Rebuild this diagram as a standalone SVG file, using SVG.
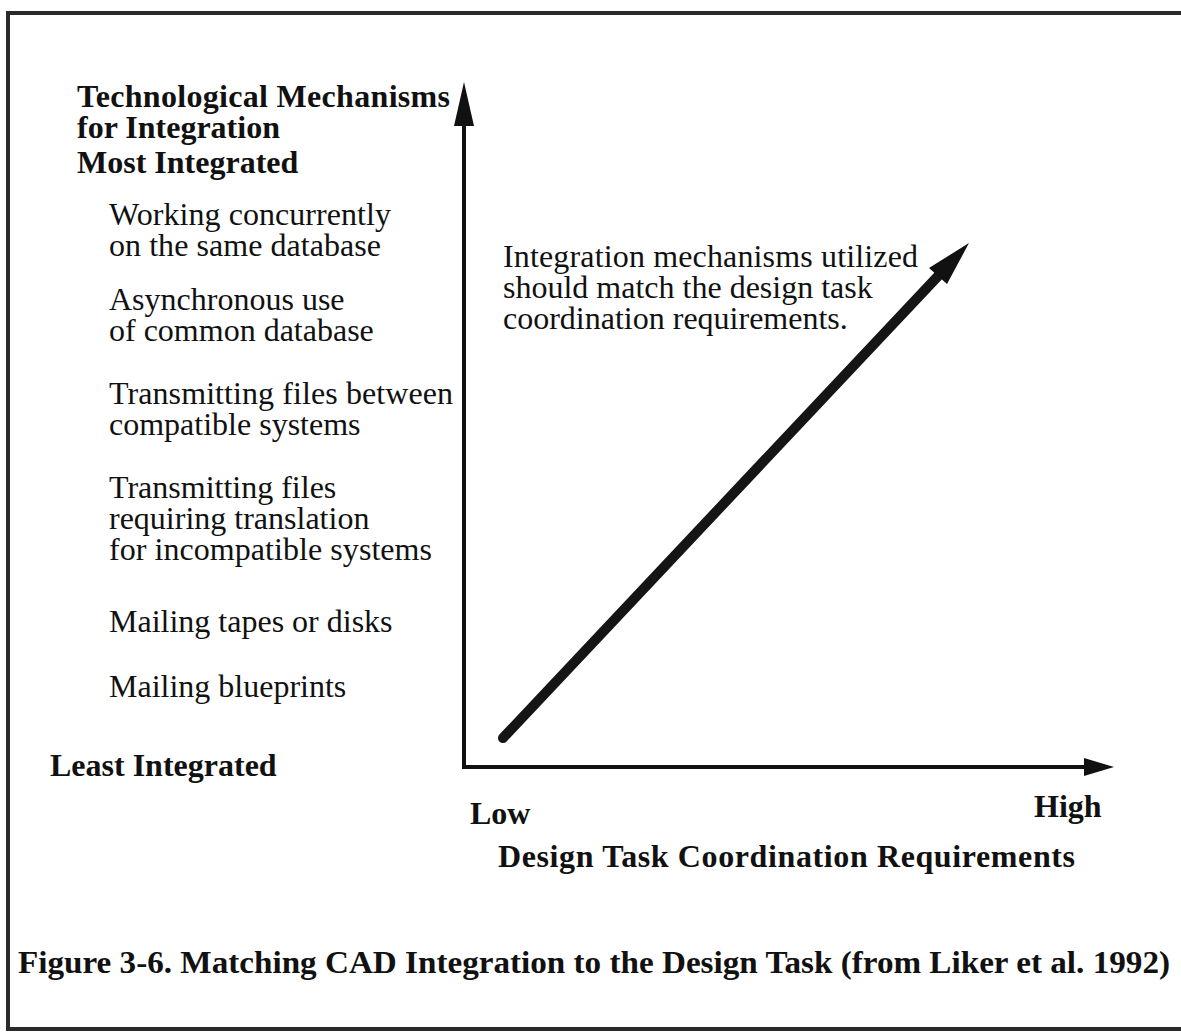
<svg xmlns="http://www.w3.org/2000/svg" width="1181" height="1032" viewBox="0 0 1181 1032">
  <style>
    text { font-family: "Liberation Serif", "Times New Roman", serif; fill: #111; font-size: 32px; }
    .b { font-weight: bold; }
    .axis { stroke: #111; stroke-width: 4; fill: none; }
    .head { fill: #111; }
  </style>
  <rect x="0" y="0" width="1181" height="1032" fill="#fff"/>
  <!-- page frame -->
  <rect x="8" y="13" width="1185" height="1016" fill="none" stroke="#2a2a2a" stroke-width="4"/>

  <!-- vertical axis heading and scale labels -->
  <g id="y-axis-title">
    <text class="b" x="77" y="107" textLength="373">Technological Mechanisms</text>
    <text class="b" x="77" y="138">for Integration</text>
  </g>
  <g id="most-integrated"><text class="b" x="77" y="173">Most Integrated</text></g>
  <g id="level-concurrent">
    <text x="109" y="225" textLength="282">Working concurrently</text>
    <text x="109" y="256" textLength="272">on the same database</text>
  </g>
  <g id="level-async">
    <text x="109" y="310">Asynchronous use</text>
    <text x="109" y="341">of common database</text>
  </g>
  <g id="level-compatible">
    <text x="109" y="404" textLength="344">Transmitting files between</text>
    <text x="109" y="435">compatible systems</text>
  </g>
  <g id="level-translation">
    <text x="109" y="498">Transmitting files</text>
    <text x="109" y="529">requiring translation</text>
    <text x="109" y="560" textLength="323">for incompatible systems</text>
  </g>
  <g id="level-tapes"><text x="109" y="632">Mailing tapes or disks</text></g>
  <g id="level-blueprints"><text x="109" y="697">Mailing blueprints</text></g>
  <g id="least-integrated"><text class="b" x="50" y="776">Least Integrated</text></g>

  <!-- horizontal axis labels -->
  <g id="x-low"><text class="b" x="470" y="824">Low</text></g>
  <g id="x-high"><text class="b" x="1034" y="817">High</text></g>
  <g id="x-axis-title"><text class="b" x="498" y="867" textLength="577">Design Task Coordination Requirements</text></g>

  <!-- annotation -->
  <g id="annotation">
    <text x="503" y="267" textLength="415">Integration mechanisms utilized</text>
    <text x="503" y="298">should match the design task</text>
    <text x="503" y="329">coordination requirements.</text>
  </g>

  <!-- axes and trend arrow -->
  <g id="connectors">
    <polyline class="axis" points="464,122 464,767 1088,767"/>
    <polygon class="head" points="464,82 454,126 474,126"/>
    <polygon class="head" points="1114,767 1084,758 1084,776"/>
    <line x1="503" y1="738" x2="940" y2="274" stroke="#151515" stroke-width="10" stroke-linecap="round"/>
    <polygon class="head" points="969,243 929,268 947,284"/>
  </g>

  <!-- caption -->
  <g id="caption">
    <text class="b" x="18" y="973" font-size="35" textLength="1152" lengthAdjust="spacingAndGlyphs">Figure 3-6.  Matching CAD Integration to the Design Task (from Liker et al. 1992)</text>
  </g>
</svg>
